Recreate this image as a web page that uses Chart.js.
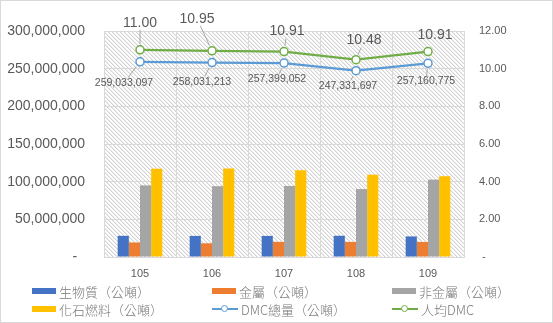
<!DOCTYPE html>
<html>
<head>
<meta charset="utf-8">
<script src="https://cdn.jsdelivr.net/npm/chart.js@4/dist/chart.umd.min.js"></script>
<style>
  body{margin:0;background:#fff;}
  #wrap{position:relative;width:553px;height:323px;box-sizing:border-box;border:1px solid #d9d9d9;background:#fff;overflow:hidden;}
  #chart{position:absolute;left:0;top:0;}
  #legend{position:absolute;left:0;top:0;width:551px;height:321px;pointer-events:none;
    font-family:"Noto Sans CJK TC","Liberation Sans",sans-serif;font-size:13px;color:#7a7a7a;font-weight:300;}
  .item{position:absolute;height:16px;display:flex;align-items:center;white-space:nowrap;}
  .sw{width:24px;height:6px;margin-right:3px;}
  .ln{position:relative;width:26px;height:2px;margin-right:3px;}
  .ln i{position:absolute;left:9px;top:-3px;width:5px;height:5px;border-radius:50%;background:#fff;border:1.5px solid;}
</style>
</head>
<body>
<div id="wrap">
  <canvas id="chart" width="551" height="321"></canvas>
  <div id="legend"></div>
</div>
<script>
/* DATA */
const years = ["105", "106", "107", "108", "109"];
const biomass = [28100000, 28000000, 28000000, 28200000, 27300000];
const metals = [19300000, 18200000, 20100000, 20000000, 20000000];
const nonMetals = [95000000, 94000000, 94300000, 90200000, 102700000];
const fossil = [117000000, 117500000, 115000000, 109300000, 107200000];
const dmcTotal = [259033097, 258031213, 257399052, 247331697, 257160775];
const dmcPerCapita = [11.00, 10.95, 10.91, 10.48, 10.91];
const leftTicks = [0, 50000000, 100000000, 150000000, 200000000, 250000000, 300000000];
const rightTicks = [0, 2, 4, 6, 8, 10, 12];

const seriesNames = ["生物質（公噸）", "金屬（公噸）", "非金屬（公噸）", "化石燃料（公噸）", "DMC總量（公噸）", "人均DMC"];
const seriesColors = ["#4472C4", "#ED7D31", "#A5A5A5", "#FFC000", "#5B9BD5", "#70AD47"];

/* label offsets from their points (Excel moved them by hand) */
const totalLabelOffset = [[-16, 21], [-10, 19], [-7, 16], [-8, 15], [-2, 18]];
const perCapLabelOffset = [[0, -27], [-15, -32], [3, -20], [8, -19], [7, -16]];

/* HELPERS */
function fmtInt(n){
  return String(Math.round(n)).replace(/\B(?=(\d{3})+(?!\d))/g, ",");
}

function hatchPattern(ctx){
  const c = document.createElement("canvas");
  c.width = 4; c.height = 4;
  const g = c.getContext("2d");
  g.fillStyle = "#ffffff";
  g.fillRect(0,0,4,4);
  for(let i=0;i<4;i++){
    g.fillStyle = "#d2d2d2";
    g.fillRect(i,i,1,1);
    g.fillStyle = "#eeeeee";
    g.fillRect((i+1)%4,i,1,1);
  }
  return ctx.createPattern(c, "repeat");
}

/* plot area background */
const hatchBg = {
  id: "hatchBg",
  beforeDraw(chart){
    const {ctx, chartArea:a} = chart;
    ctx.save();
    ctx.fillStyle = hatchPattern(ctx);
    ctx.fillRect(a.left, a.top, a.right-a.left, a.bottom-a.top);
    ctx.restore();
  }
};

/* data labels with leader lines */
function drawLabels(chart, dsIndex, texts, offsets, font){
  const ctx = chart.ctx;
  const pts = chart.getDatasetMeta(dsIndex).data;
  ctx.save();
  ctx.font = font;
  ctx.textAlign = "center";
  ctx.textBaseline = "middle";
  pts.forEach((p,i)=>{
    const lx = p.x + offsets[i][0];
    const ly = p.y + offsets[i][1];
    const w = ctx.measureText(texts[i]).width/2 + 1;
    const h = parseFloat(font)/2;
    // leader line
    const dx = p.x - lx, dy = p.y - ly;
    const len = Math.hypot(dx, dy);
    const tEdge = Math.min(Math.abs(dx) > 0 ? w/Math.abs(dx) : 9, Math.abs(dy) > 0 ? h/Math.abs(dy) : 9);
    const sx = lx + dx*tEdge, sy = ly + dy*tEdge;
    const ex = p.x - dx/len*6, ey = p.y - dy/len*6;
    if(Math.hypot(ex-sx, ey-sy) > 4 && tEdge < 1){
      ctx.strokeStyle = "#a6a6a6";
      ctx.lineWidth = 1;
      ctx.beginPath();
      ctx.moveTo(sx, sy);
      ctx.lineTo(ex, ey);
      ctx.stroke();
    }
    ctx.fillStyle = "#595959";
    ctx.fillText(texts[i], lx, ly);
  });
  ctx.restore();
}

const dataLabels = {
  id: "dataLabels",
  afterDatasetsDraw(chart){
    drawLabels(chart, 4, dmcTotal.map(fmtInt), totalLabelOffset, "10.5px 'Liberation Sans'");
    drawLabels(chart, 5, dmcPerCapita.map(v=>v.toFixed(2)), perCapLabelOffset, "14px 'Liberation Sans'");
  }
};

/* CHART */
const barSets = [biomass, metals, nonMetals, fossil].map((d,i)=>({
  type: "bar",
  label: seriesNames[i],
  data: d,
  backgroundColor: seriesColors[i],
  yAxisID: "y",
  order: 1,
  categoryPercentage: 0.62,
  barPercentage: 1.0
}));

const lineSets = [
  { data: dmcTotal, yAxisID: "y", idx: 4 },
  { data: dmcPerCapita, yAxisID: "y1", idx: 5 }
].map(s=>({
  type: "line",
  label: seriesNames[s.idx],
  data: s.data,
  yAxisID: s.yAxisID,
  order: 0,
  borderColor: seriesColors[s.idx],
  borderWidth: 2.25,
  pointRadius: 4,
  pointBorderWidth: 1.5,
  pointBackgroundColor: "#ffffff",
  pointBorderColor: seriesColors[s.idx],
  tension: 0
}));

const tickFont = { family: "'Liberation Sans'", size: 11 };

new Chart(document.getElementById("chart"), {
  type: "bar",
  data: { labels: years, datasets: [...barSets, ...lineSets] },
  options: {
    responsive: false,
    animation: false,
    layout: { padding: { top: 30, bottom: 41, left: 0, right: 0 } },
    plugins: { legend: { display: false }, tooltip: { enabled: false } },
    scales: {
      x: {
        grid: { color: "#d9d9d9", drawTicks: false, offset: true },
        border: { color: "#d9d9d9" },
        ticks: { color: "#595959", font: tickFont, padding: 10 },
        afterFit: s => { s.height = 24; }
      },
      y: {
        position: "left",
        min: 0, max: 300000000,
        grid: { color: "#d9d9d9", drawTicks: false },
        border: { display: false },
        afterBuildTicks: s => { s.ticks = leftTicks.map(v=>({value:v})); },
        ticks: {
          color: "#595959",
          font: { family: "'Liberation Sans'", size: 14 },
          padding: 19,
          callback: v => v === 0 ? "-  " : fmtInt(v)
        },
        afterFit: s => { s.width = 103; }
      },
      y1: {
        position: "right",
        min: 0, max: 12,
        grid: { display: false, drawTicks: false },
        border: { display: false },
        afterBuildTicks: s => { s.ticks = rightTicks.map(v=>({value:v})); },
        ticks: {
          color: "#595959",
          font: tickFont,
          padding: 15,
          callback: v => v === 0 ? " -" : Number(v).toFixed(2)
        },
        afterFit: s => { s.width = 88; }
      }
    }
  },
  plugins: [hatchBg, dataLabels]
});

/* LEGEND (3 columns, 2 rows like the Excel one) */
const legendCols = [31, 211, 391];
const legendRows = [282, 300];
const legend = document.getElementById("legend");
seriesNames.forEach((name,i)=>{
  const el = document.createElement("div");
  el.className = "item";
  el.style.left = legendCols[i % 3] + "px";
  el.style.top = legendRows[Math.floor(i / 3)] + "px";
  if(i < 4){
    el.innerHTML = `<span class="sw" style="background:${seriesColors[i]}"></span>${name}`;
  } else {
    el.innerHTML = `<span class="ln" style="background:${seriesColors[i]}"><i style="border-color:${seriesColors[i]}"></i></span>${name}`;
  }
  legend.appendChild(el);
});
</script>
</body>
</html>
